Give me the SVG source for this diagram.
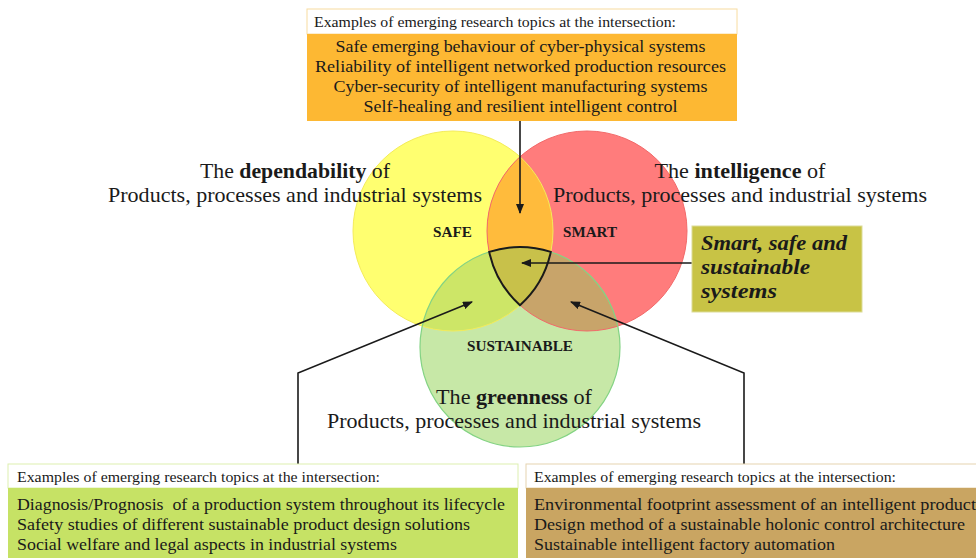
<svg xmlns="http://www.w3.org/2000/svg" width="976" height="558" viewBox="0 0 976 558">
<style>
text{font-family:"Liberation Serif","DejaVu Serif",serif;fill:#1a1a1a}
.hdr{font-size:15px}
.body{font-size:17.5px}
.title{font-size:21.5px}
.lbl{font-size:14.5px;font-weight:bold}
.conn{fill:none;stroke:#1a1a1a;stroke-width:1.6}
</style>
<defs>
<clipPath id="cy"><circle cx="453" cy="231" r="100"/></clipPath>
<clipPath id="cr"><circle cx="587" cy="231" r="100"/></clipPath>
<clipPath id="cg"><circle cx="520" cy="347" r="100"/></clipPath>
<marker id="ah" markerWidth="10" markerHeight="8" refX="9" refY="4" orient="auto" markerUnits="userSpaceOnUse">
<path d="M0,0 L10,4 L0,8 Z" fill="#1a1a1a"/>
</marker>
</defs>

<g id="venn">
<circle cx="453" cy="231" r="100" fill="#FFFF70"/>
<circle cx="587" cy="231" r="100" fill="#FF7C7C"/>
<circle cx="587" cy="231" r="100" fill="#FFBB3C" clip-path="url(#cy)"/>
<circle cx="520" cy="347" r="100" fill="#C7E8A7"/>
<circle cx="453" cy="231" r="100" fill="#CDE667" clip-path="url(#cg)"/>
<circle cx="587" cy="231" r="100" fill="#C8A46A" clip-path="url(#cg)"/>
<path d="M489.2,251.9 A100,100 0 0 1 550.8,251.9 A100,100 0 0 1 520,305.2 A100,100 0 0 1 489.2,251.9 Z" fill="#C8C14A"/>
<circle cx="453" cy="231" r="100" fill="none" stroke="#F4EC5A" stroke-width="1"/>
<circle cx="587" cy="231" r="100" fill="none" stroke="#F26A6A" stroke-width="1"/>
<circle cx="520" cy="347" r="100" fill="none" stroke="#84D384" stroke-width="1.2"/>
<path d="M489.2,251.9 A100,100 0 0 1 550.8,251.9 A100,100 0 0 1 520,305.2 A100,100 0 0 1 489.2,251.9 Z" fill="none" stroke="#1a1a1a" stroke-width="2"/>
</g>

<g id="safe"><text class="lbl" x="452.5" y="237" text-anchor="middle" textLength="39" lengthAdjust="spacingAndGlyphs">SAFE</text></g>
<g id="smart"><text class="lbl" x="590" y="237" text-anchor="middle" textLength="54" lengthAdjust="spacingAndGlyphs">SMART</text></g>
<g id="sustainable"><text class="lbl" x="520" y="351" text-anchor="middle" textLength="106" lengthAdjust="spacingAndGlyphs">SUSTAINABLE</text></g>

<g id="title-dependability">
<text class="title" x="295" y="178" text-anchor="middle" textLength="190" lengthAdjust="spacingAndGlyphs">The <tspan font-weight="bold">dependability</tspan> of</text>
<text class="title" x="295" y="202" text-anchor="middle" textLength="374" lengthAdjust="spacingAndGlyphs">Products, processes and industrial systems</text>
</g>
<g id="title-intelligence">
<text class="title" x="740" y="178" text-anchor="middle" textLength="171" lengthAdjust="spacingAndGlyphs">The <tspan font-weight="bold">intelligence</tspan> of</text>
<text class="title" x="740" y="202" text-anchor="middle" textLength="374" lengthAdjust="spacingAndGlyphs">Products, processes and industrial systems</text>
</g>
<g id="title-greenness">
<text class="title" x="514" y="404" text-anchor="middle" textLength="156" lengthAdjust="spacingAndGlyphs">The <tspan font-weight="bold">greenness</tspan> of</text>
<text class="title" x="514" y="428" text-anchor="middle" textLength="374" lengthAdjust="spacingAndGlyphs">Products, processes and industrial systems</text>
</g>

<g id="connectors">
<path class="conn" d="M520,121 L520,213" marker-end="url(#ah)"/>
<path class="conn" d="M692,263 L522,263" marker-end="url(#ah)"/>
<path class="conn" d="M298,464 L298,373 L472,302" marker-end="url(#ah)"/>
<path class="conn" d="M744,464 L744,373 L571,302" marker-end="url(#ah)"/>
</g>

<g id="box-top">
<rect x="307" y="9" width="430" height="25" fill="#FFFFFF" stroke="#F8DCA0" stroke-width="1"/>
<rect x="307" y="34" width="430" height="87" fill="#FDB833"/>
<text class="hdr" x="314" y="27" textLength="362" lengthAdjust="spacingAndGlyphs">Examples of emerging research topics at the intersection:</text>
<text class="body" x="520.5" y="52" text-anchor="middle" textLength="370" lengthAdjust="spacingAndGlyphs">Safe emerging behaviour of cyber-physical systems</text>
<text class="body" x="520.5" y="72" text-anchor="middle" textLength="411" lengthAdjust="spacingAndGlyphs">Reliability of intelligent networked production resources</text>
<text class="body" x="520.5" y="92" text-anchor="middle" textLength="374" lengthAdjust="spacingAndGlyphs">Cyber-security of intelligent manufacturing systems</text>
<text class="body" x="520.5" y="112" text-anchor="middle" textLength="314" lengthAdjust="spacingAndGlyphs">Self-healing and resilient intelligent control</text>
</g>

<g id="box-sss">
<rect x="692" y="226" width="170" height="86" fill="#C8C345" stroke="#DCDC98" stroke-width="1"/>
<text x="701" y="250" font-size="21" font-weight="bold" font-style="italic" textLength="146" lengthAdjust="spacingAndGlyphs">Smart, safe and</text>
<text x="701" y="274" font-size="21" font-weight="bold" font-style="italic" textLength="109" lengthAdjust="spacingAndGlyphs">sustainable</text>
<text x="701" y="298" font-size="21" font-weight="bold" font-style="italic" textLength="76" lengthAdjust="spacingAndGlyphs">systems</text>
</g>

<g id="box-bottom-left">
<rect x="8" y="464" width="510" height="24" fill="#FFFFFF" stroke="#DDEFB0" stroke-width="1"/>
<rect x="8" y="488" width="510" height="72" fill="#C6E265"/>
<text class="hdr" x="17" y="482" textLength="363" lengthAdjust="spacingAndGlyphs">Examples of emerging research topics at the intersection:</text>
<text class="body" x="17" y="510" xml:space="preserve" textLength="488" lengthAdjust="spacingAndGlyphs">Diagnosis/Prognosis  of a production system throughout its lifecycle</text>
<text class="body" x="17" y="530" textLength="453" lengthAdjust="spacingAndGlyphs">Safety studies of different sustainable product design solutions</text>
<text class="body" x="17" y="550" textLength="380" lengthAdjust="spacingAndGlyphs">Social welfare and legal aspects in industrial systems</text>
</g>

<g id="box-bottom-right">
<rect x="526" y="464" width="452" height="24" fill="#FFFFFF" stroke="#E6D4B0" stroke-width="1"/>
<rect x="526" y="488" width="452" height="72" fill="#C9A562"/>
<text class="hdr" x="534" y="482" textLength="362" lengthAdjust="spacingAndGlyphs">Examples of emerging research topics at the intersection:</text>
<text class="body" x="534" y="510" textLength="442" lengthAdjust="spacingAndGlyphs">Environmental footprint assessment of an intelligent product</text>
<text class="body" x="534" y="530" textLength="431" lengthAdjust="spacingAndGlyphs">Design method of a sustainable holonic control architecture</text>
<text class="body" x="534" y="550" textLength="301" lengthAdjust="spacingAndGlyphs">Sustainable intelligent factory automation</text>
</g>
</svg>
